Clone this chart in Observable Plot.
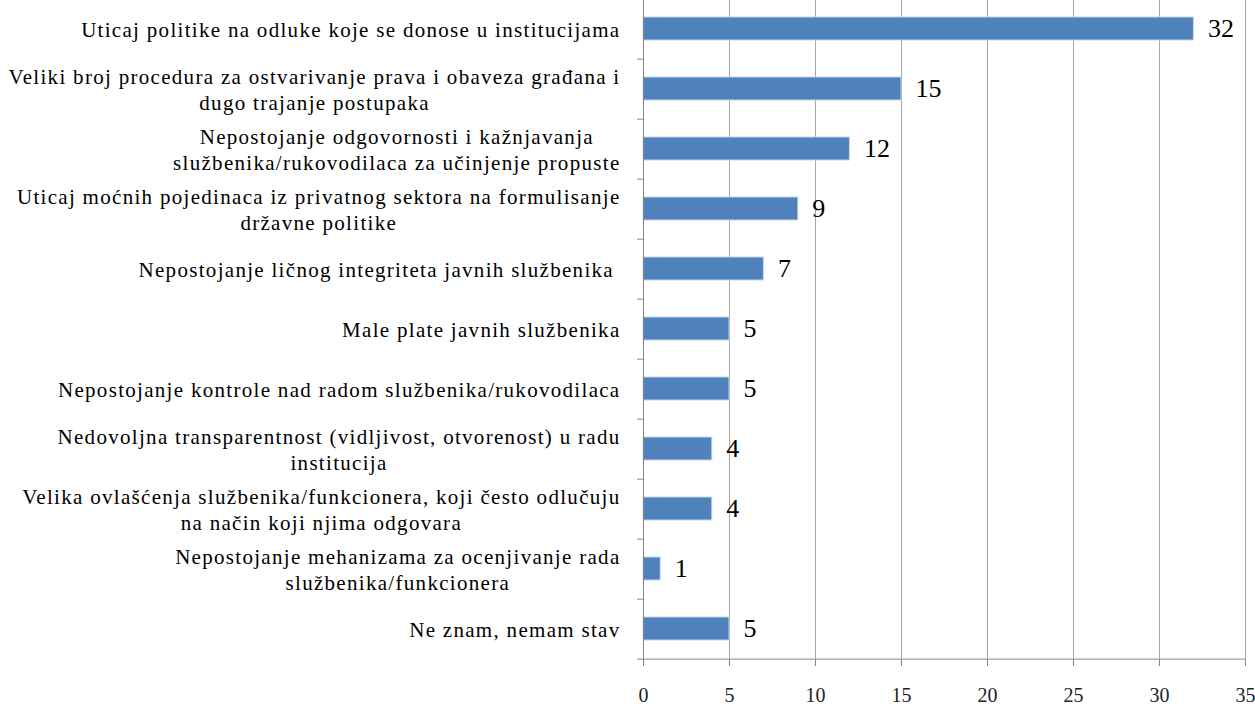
<!DOCTYPE html>
<html><head><meta charset="utf-8">
<script src="https://cdn.jsdelivr.net/npm/d3@7"></script>
<script src="https://cdn.jsdelivr.net/npm/@observablehq/plot@0.6"></script>
<style>
body{margin:0;background:#fff;}
</style>
</head><body><div id="chart"></div>
<script>
const categories = [
  "Uticaj politike na odluke koje se donose u institucijama",
  "Veliki broj procedura za ostvarivanje prava i obaveza građana i\ndugo trajanje postupaka",
  "Nepostojanje odgovornosti i kažnjavanja\nslužbenika/rukovodilaca za učinjenje propuste",
  "Uticaj moćnih pojedinaca iz privatnog sektora na formulisanje\ndržavne politike",
  "Nepostojanje ličnog integriteta javnih službenika ",
  "Male plate javnih službenika",
  "Nepostojanje kontrole nad radom službenika/rukovodilaca",
  "Nedovoljna transparentnost (vidljivost, otvorenost) u radu\ninstitucija",
  "Velika ovlašćenja službenika/funkcionera, koji često odlučuju\nna način koji njima odgovara",
  "Nepostojanje mehanizama za ocenjivanje rada\nslužbenika/funkcionera",
  "Ne znam, nemam stav"
];
const values = [32, 15, 12, 9, 7, 5, 5, 4, 4, 1, 5];
const xTicks = [0, 5, 10, 15, 20, 25, 30, 35];

const data = categories.map((c, i) => ({category: c, value: values[i]}));

const serif = "Liberation Serif";
const labelSize = 21, labelSpacing = 1.3, labelGap = 23;
const ctx = document.createElement("canvas").getContext("2d");
ctx.font = `${labelSize}px "${serif}"`;
const blockWidth = s => Math.max(...s.split("\n").map(l => ctx.measureText(l).width + l.length * labelSpacing));

const height = 704, marginBottom = 44, marginTop = -3;
const step = (height - marginBottom - marginTop) / categories.length;
const bandHalf = step / 2;

const labelMarks = categories.map(c => Plot.text([c], {
  y: d => d, text: d => d, frameAnchor: "left", textAnchor: "middle",
  dx: -(labelGap + blockWidth(c) / 2), fontSize: labelSize, fontFamily: serif,
  lineHeight: 1.22, fill: "#000"
}));

const chart = Plot.plot({
  width: 1255, height, marginLeft: 643, marginRight: 10, marginTop, marginBottom,
  x: {domain: [0, 35], axis: null},
  y: {domain: categories, paddingInner: 0.61, paddingOuter: 0.305, axis: null},
  style: {background: "#fff", overflow: "visible"},
  marks: [
    Plot.gridX(xTicks.filter(t => t > 0), {stroke: "#a6a6a6", strokeOpacity: 1}),
    Plot.barX(data, {x: "value", y: "category", fill: "#4F81BD", stroke: "#c5d5ea", strokeWidth: 1}),
    Plot.text(data, {x: "value", y: "category", text: d => String(d.value), dx: 14, textAnchor: "start", fontSize: 26, fontFamily: serif, fill: "#000"}),
    Plot.ruleX([0], {stroke: "#868686"}),
    Plot.ruleY([categories[categories.length - 1]], {y: d => d, x1: 0, x2: 35, dy: bandHalf, stroke: "#868686"}),
    Plot.axisY({tickSize: 6, tickFormat: () => "", dy: bandHalf, stroke: "#868686", label: null}),
    Plot.axisX(xTicks, {tickSize: 6, tickPadding: 21, fontSize: 20, fontFamily: serif, stroke: "#868686", fill: "#222", label: null}),
    ...labelMarks
  ]
});
const flat = new Set(categories.map(c => c.replace("\n", "")));
d3.select(chart).selectAll("text")
  .filter(function () { return flat.has(this.textContent); })
  .attr("letter-spacing", labelSpacing + "px")
  .style("letter-spacing", labelSpacing + "px");
document.getElementById("chart").append(chart);
</script>
</body></html>
